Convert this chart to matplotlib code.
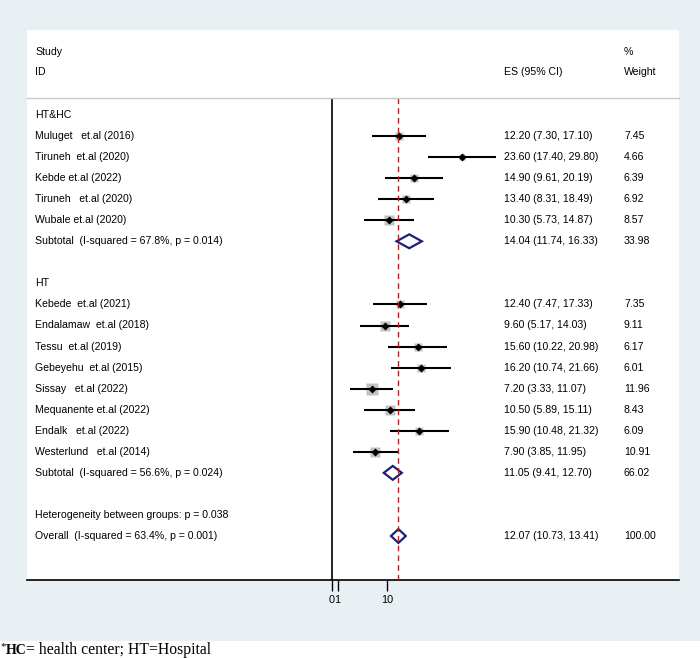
import matplotlib
matplotlib.use("Agg")
import matplotlib.pyplot as plt
from matplotlib.patches import Rectangle, Polygon
from matplotlib.lines import Line2D
import matplotlib.transforms as mtransforms

plt.rcParams['font.family'] = ['Liberation Sans', 'DejaVu Sans']

# ---------------- data ----------------
group1_label = "HT&HC"
group1_studies = ["Muluget   et.al (2016)", "Tiruneh  et.al (2020)", "Kebde et.al (2022)",
                  "Tiruneh   et.al (2020)", "Wubale et.al (2020)"]
group1_es = [12.20, 23.60, 14.90, 13.40, 10.30]
group1_lci = [7.30, 17.40, 9.61, 8.31, 5.73]
group1_uci = [17.10, 29.80, 20.19, 18.49, 14.87]
group1_w = [7.45, 4.66, 6.39, 6.92, 8.57]
group1_sub_label = "Subtotal  (I-squared = 67.8%, p = 0.014)"
group1_sub = (14.04, 11.74, 16.33, 33.98)

group2_label = "HT"
group2_studies = ["Kebede  et.al (2021)", "Endalamaw  et.al (2018)", "Tessu  et.al (2019)",
                  "Gebeyehu  et.al (2015)", "Sissay   et.al (2022)", "Mequanente et.al (2022)",
                  "Endalk   et.al (2022)", "Westerlund   et.al (2014)"]
group2_es = [12.40, 9.60, 15.60, 16.20, 7.20, 10.50, 15.90, 7.90]
group2_lci = [7.47, 5.17, 10.22, 10.74, 3.33, 5.89, 10.48, 3.85]
group2_uci = [17.33, 14.03, 20.98, 21.66, 11.07, 15.11, 21.32, 11.95]
group2_w = [7.35, 9.11, 6.17, 6.01, 11.96, 8.43, 6.09, 10.91]
group2_sub_label = "Subtotal  (I-squared = 56.6%, p = 0.024)"
group2_sub = (11.05, 9.41, 12.70, 66.02)

het_label = "Heterogeneity between groups: p = 0.038"
overall_label = "Overall  (I-squared = 63.4%, p = 0.001)"
overall = (12.07, 10.73, 13.41, 100.00)

xticks = [0, 1, 10]
xtick_labels = ["0", "1", "10"]

# ---------------- layout ----------------
W, H = 700, 658
DPI = 100
fig = plt.figure(figsize=(W / DPI, H / DPI), dpi=DPI, facecolor="white")

def fx(px):
    return px / W

def fy(py):
    return 1 - py / H

BG = "#e8f0f3"
fig.patches.append(Rectangle((0, fy(641)), 1, fy(0) - fy(641), transform=fig.transFigure,
                             facecolor=BG, edgecolor="none", zorder=-3))
panel_l, panel_r, panel_t, panel_b = 27, 679, 30, 580
fig.patches.append(Rectangle((fx(panel_l), fy(panel_b)), fx(panel_r) - fx(panel_l),
                             fy(panel_t) - fy(panel_b), transform=fig.transFigure,
                             facecolor="white", edgecolor="none", zorder=-2))

ax_top = 98
ax = fig.add_axes([fx(panel_l), fy(panel_b), fx(panel_r) - fx(panel_l), fy(ax_top) - fy(panel_b)])
ax.set_facecolor("none")

x0_px, px_per_unit = 332.0, 5.5
ax.set_xlim((panel_l - x0_px) / px_per_unit, (panel_r - x0_px) / px_per_unit)
row0_px, row_h = 115.0, 21.05
ax.set_ylim((panel_b - row0_px) / row_h, (ax_top - row0_px) / row_h)

for s in ["top", "left", "right"]:
    ax.spines[s].set_visible(False)
ax.spines["bottom"].set_linewidth(1.2)
ax.set_yticks([])
ax.set_xticks(xticks)
ax.set_xticklabels(xtick_labels, fontsize=7.8)
ax.tick_params(axis="x", length=8, width=1.0, pad=3)

# header separator line
fig.add_artist(Line2D([fx(panel_l), fx(panel_r)], [fy(ax_top), fy(ax_top)],
                      transform=fig.transFigure, color="#c8c8c8", lw=1.0))

FS = 7.6
label_x, es_x, w_x = fx(35), fx(504), fx(624)
fig.text(label_x, fy(52), "Study", fontsize=FS, va="center")
fig.text(label_x, fy(72), "ID", fontsize=FS, va="center")
fig.text(w_x, fy(52), "%", fontsize=FS, va="center")
fig.text(w_x, fy(72), "Weight", fontsize=FS, va="center")
fig.text(es_x, fy(72), "ES (95% CI)", fontsize=FS, va="center")

trans = mtransforms.blended_transform_factory(fig.transFigure, ax.transData)

def put_row(r, label, es=None, lci=None, uci=None, w=None):
    ax.text(label_x, r, label, transform=trans, fontsize=FS, va="center", ha="left")
    if es is not None:
        ax.text(es_x, r, f"{es:.2f} ({lci:.2f}, {uci:.2f})", transform=trans,
                fontsize=FS, va="center", ha="left")
        ax.text(w_x, r, f"{w:.2f}", transform=trans, fontsize=FS, va="center", ha="left")

def study(r, es, lci, uci, w):
    side_px = 3.2 * w ** 0.5
    ax.plot([es], [r], marker="s", ms=side_px * 0.72, color="#c2c2c2", mec="none", zorder=2)
    ax.plot([lci, uci], [r, r], color="black", lw=1.5, solid_capstyle="butt", zorder=3)
    ax.plot([es], [r], marker="D", ms=4.2, color="black", mec="none", zorder=4)

def diamond(r, es, lci, uci):
    h = 0.33
    ax.add_patch(Polygon([(lci, r), (es, r - h), (uci, r), (es, r + h)], closed=True,
                         facecolor="none", edgecolor="#1f1f7a", lw=1.6, zorder=3))

r = 0
put_row(r, group1_label)
for lab, es, l, u, w in zip(group1_studies, group1_es, group1_lci, group1_uci, group1_w):
    r += 1
    put_row(r, lab, es, l, u, w)
    study(r, es, l, u, w)
r += 1
put_row(r, group1_sub_label, *group1_sub)
diamond(r, *group1_sub[:3])

r += 2
put_row(r, group2_label)
for lab, es, l, u, w in zip(group2_studies, group2_es, group2_lci, group2_uci, group2_w):
    r += 1
    put_row(r, lab, es, l, u, w)
    study(r, es, l, u, w)
r += 1
put_row(r, group2_sub_label, *group2_sub)
diamond(r, *group2_sub[:3])

r += 2
put_row(r, het_label)
r += 1
put_row(r, overall_label, *overall)
diamond(r, *overall[:3])

ax.axvline(0, color="black", lw=1.2, zorder=1)
ax.axvline(overall[0], color="#b22222", lw=1.0, ls=(0, (4, 3)), zorder=5)

# caption
renderer = fig.canvas.get_renderer()
cy = fy(650)
t1 = fig.text(0.0, fy(647), "*", fontsize=8, family="Liberation Serif", va="center")
bb = t1.get_window_extent(renderer)
t2 = fig.text(bb.x1 / W, cy, "HC", fontsize=10, family="Liberation Serif",
              weight="bold", va="center")
bb2 = t2.get_window_extent(renderer)
fig.text(bb2.x1 / W, cy, "= health center; HT=Hospital", fontsize=11.3,
         family="Liberation Serif", va="center")

fig.savefig("out.png", dpi=DPI, facecolor="white")
